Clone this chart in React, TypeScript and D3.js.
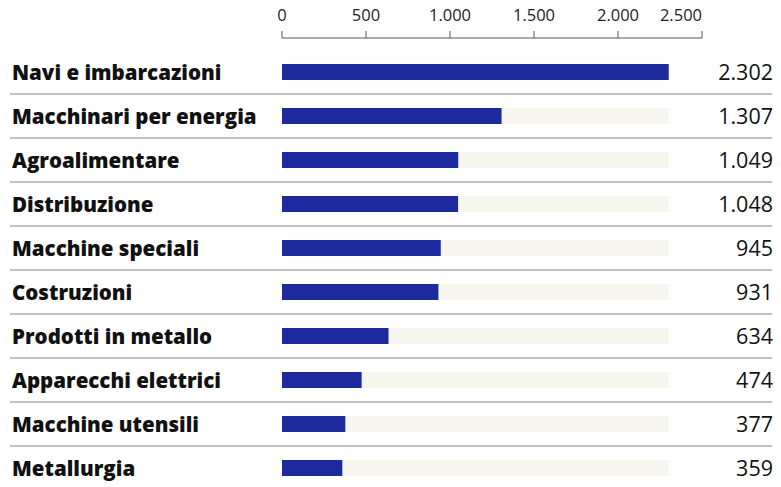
import React from "react";
import * as d3 from "d3";

const categories = [
  "Navi e imbarcazioni",
  "Macchinari per energia",
  "Agroalimentare",
  "Distribuzione",
  "Macchine speciali",
  "Costruzioni",
  "Prodotti in metallo",
  "Apparecchi elettrici",
  "Macchine utensili",
  "Metallurgia",
];
const values = [2302, 1307, 1049, 1048, 945, 931, 634, 474, 377, 359];
const valueLabels = ["2.302", "1.307", "1.049", "1.048", "945", "931", "634", "474", "377", "359"];
const tickValues = [0, 500, 1000, 1500, 2000, 2500];
const tickLabels = ["0", "500", "1.000", "1.500", "2.000", "2.500"];

const W = 781;
const H = 487;
const FONT = "'Open Sans', sans-serif";

export default function App() {
  const x = d3.scaleLinear().domain([0, 2500]).range([282, 702]);
  const y = d3
    .scaleBand<string>()
    .domain(categories)
    .range([50, 50 + 44 * categories.length])
    .paddingInner(0.636)
    .paddingOuter(0.318);
  const bh = y.bandwidth();
  const step = y.step();
  const maxV = d3.max(values) as number;
  const axisY = 38;

  return (
    <svg
      width={W}
      height={H}
      style={{ position: "absolute", left: 0, top: 0, background: "#fff" }}
      fontFamily={FONT}
    >
      <rect x={0} y={0} width={W} height={H} fill="#fff" />
      {/* axis */}
      <line x1={x(0)} x2={x(2500)} y1={axisY} y2={axisY} stroke="#555" strokeWidth={1} />
      {tickValues.map((t, i) => (
        <g key={t}>
          <line x1={x(t)} x2={x(t)} y1={axisY - 7} y2={axisY} stroke="#555" strokeWidth={1} />
          <text
            x={x(t)}
            y={21}
            fontSize={16.5}
            fill="#222"
            textAnchor={i === tickValues.length - 1 ? "end" : "middle"}
          >
            {tickLabels[i]}
          </text>
        </g>
      ))}
      {categories.map((c, i) => {
        const yc = (y(c) as number) + bh / 2;
        return (
          <g key={c}>
            <rect
              x={x(0)}
              y={y(c) as number}
              width={x(maxV) - x(0)}
              height={bh}
              fill="#f6f5ee"
            />
            <rect
              x={x(0)}
              y={y(c) as number}
              width={x(values[i]) - x(0)}
              height={bh}
              fill="#1c2a9e"
            />
            <text x={12} y={yc + 7.5} fontSize={20.5} fontWeight={800} fill="#111">
              {c}
            </text>
            <text x={773} y={yc + 8} fontSize={21.5} textAnchor="end" fill="#111">
              {valueLabels[i]}
            </text>
            {i < categories.length - 1 && (
              <line
                x1={10}
                x2={772}
                y1={(y(c) as number) + bh + (step - bh) / 2}
                y2={(y(c) as number) + bh + (step - bh) / 2}
                stroke="#85857c"
                strokeWidth={1.2}
              />
            )}
          </g>
        );
      })}
    </svg>
  );
}
